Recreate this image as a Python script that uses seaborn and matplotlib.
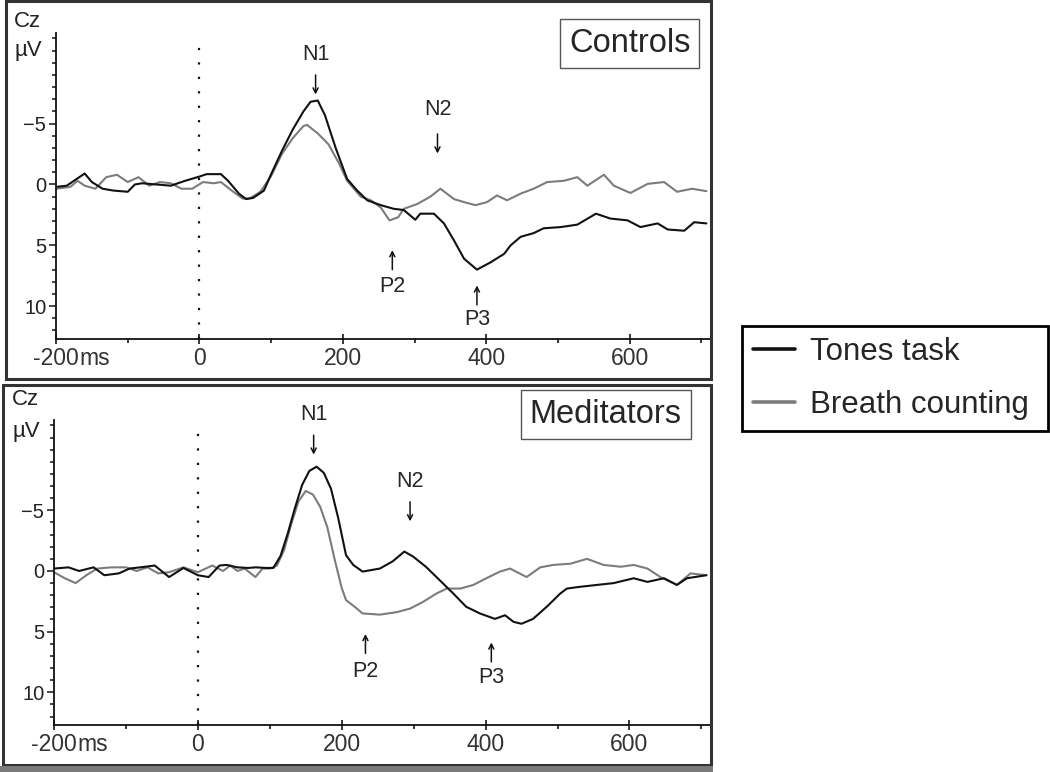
import numpy as np
import pandas as pd
import seaborn as sns
import matplotlib.pyplot as plt
from matplotlib.lines import Line2D
from matplotlib.patches import Rectangle
from matplotlib.ticker import MultipleLocator, FixedLocator

# ---- data (ms, µV; negative plotted upward) ----
ctrl_tones_t = [-200, -185, -165, -160, -150, -135, -120, -100, -90, -80, -60, -40, -20, 0, 10, 30, 40,
                55, 65, 75, 90, 100, 115, 130, 145, 155, 165, 175, 190, 206, 220, 234, 253, 271, 285,
                301, 308, 327, 341, 355, 369, 387, 406, 425, 434, 448, 466, 480, 504, 527, 553, 573,
                597, 615, 639, 653, 676, 690, 707]
ctrl_tones_v = [0.2, 0.1, -0.7, -0.9, -0.2, 0.35, 0.5, 0.6, 0, -0.1, 0, 0.1, -0.3, -0.65, -0.85, -0.85, -0.3,
                0.75, 1.2, 1.1, 0.5, -0.85, -2.75, -4.5, -6.0, -6.8, -6.9, -5.7, -3.0, -0.45, 0.5, 1.3, 1.7,
                2.0, 2.1, 2.9, 2.4, 2.4, 3.2, 4.6, 6.1, 7.0, 6.4, 5.7, 5.0, 4.3, 4.0, 3.6, 3.5, 3.3, 2.4,
                2.8, 2.95, 3.5, 3.2, 3.7, 3.8, 3.1, 3.2]

ctrl_breath_t = [-200, -180, -170, -160, -145, -130, -115, -100, -85, -70, -55, -40, -25, -10, 5, 20, 30,
                 45, 60, 70, 85, 100, 115, 130, 145, 150, 165, 180, 195, 206, 225, 239, 253, 265, 277,
                 285, 304, 322, 336, 355, 369, 385, 401, 415, 429, 448, 466, 485, 508, 527, 541, 564,
                 578, 601, 625, 648, 666, 687, 707]
ctrl_breath_v = [0.35, 0.2, -0.3, 0.1, 0.35, -0.6, -0.8, -0.2, -0.6, 0.1, -0.2, -0.1, 0.35, 0.35, -0.2,
                 -0.1, -0.2, 0.5, 1.15, 1.15, 0.6, -0.7, -2.5, -3.8, -4.8, -4.9, -4.2, -3.3, -1.7, -0.3,
                 1.0, 1.3, 1.9, 2.95, 2.7, 2.0, 1.6, 1.0, 0.35, 1.2, 1.45, 1.7, 1.45, 0.9, 1.3, 0.75,
                 0.35, -0.2, -0.3, -0.6, 0.1, -0.8, 0.1, 0.7, -0.05, -0.2, 0.6, 0.35, 0.55]

med_tones_t = [-200, -180, -165, -145, -130, -110, -95, -80, -60, -40, -20, 0, 15, 30, 40, 55, 70, 80,
               95, 105, 115, 125, 135, 145, 155, 165, 175, 185, 195, 206, 216, 229, 253, 271, 287, 299,
               317, 336, 355, 373, 392, 413, 427, 439, 450, 466, 485, 504, 513, 532, 555, 578, 606,
               625, 648, 666, 680, 707]
med_tones_v = [-0.2, -0.3, 0, -0.3, 0.35, 0.2, -0.2, -0.3, -0.45, 0.5, -0.25, 0.35, 0.5, -0.45, -0.5,
               -0.3, -0.25, -0.3, -0.25, -0.25, -1.25, -3.1, -5.2, -7.1, -8.25, -8.6, -8.1, -6.8, -4.4,
               -1.3, -0.5, 0.05, -0.2, -0.8, -1.6, -1.2, -0.35, 0.75, 1.85, 2.95, 3.5, 3.95, 3.65, 4.2,
               4.35, 3.95, 2.95, 1.85, 1.45, 1.3, 1.15, 1.0, 0.6, 0.9, 0.6, 1.15, 0.6, 0.35]

med_breath_t = [-200, -185, -170, -155, -140, -120, -100, -85, -70, -55, -40, -20, 0, 20, 35, 45, 55,
                65, 80, 90, 100, 110, 120, 130, 140, 150, 160, 170, 180, 190, 200, 206, 220, 229, 253,
                276, 295, 313, 332, 346, 365, 383, 401, 420, 434, 457, 476, 494, 518, 541, 564, 588,
                606, 625, 643, 666, 685, 707]
med_breath_v = [0.1, 0.6, 1.0, 0.35, -0.2, -0.3, -0.3, 0, -0.3, 0.2, 0.1, -0.3, 0.1, -0.45, 0, -0.45,
                0, -0.2, 0.5, -0.2, -0.2, -0.45, -1.75, -3.9, -5.75, -6.6, -6.3, -5.3, -3.6, -1.0, 1.4,
                2.4, 3.05, 3.5, 3.6, 3.4, 3.1, 2.55, 1.85, 1.45, 1.45, 1.15, 0.6, 0.05, -0.2, 0.5, -0.3,
                -0.5, -0.6, -1.0, -0.5, -0.35, -0.5, -0.2, 0.5, 1.15, 0.2, 0.35]

conditions = ["Tones task", "Breath counting"]
colors = {"Tones task": "#111111", "Breath counting": "#7c7c7c"}

# peak labels: (text, x ms, text y, arrow centre y, arrow points down?)
ctrl_peaks = [("N1", 162, -10.7, -8.2, True), ("N2", 332, -6.2, -3.35, True),
              ("P2", 269, 8.4, 6.2, False), ("P3", 387, 11.1, 9.1, False)]
med_peaks = [("N1", 161, -12.9, -10.4, True), ("N2", 295, -7.4, -4.9, True),
             ("P2", 233, 8.3, 6.0, False), ("P3", 408, 8.8, 6.7, False)]

sns.set_style("white")
plt.rcParams['font.family'] = ['Liberation Sans', 'DejaVu Sans']

W, H = 1050, 772
fig = plt.figure(figsize=(10.5, 7.72), dpi=100)


def to_df(tones_t, tones_v, breath_t, breath_v):
    a = pd.DataFrame({"time": tones_t, "amp": tones_v, "cond": conditions[0]})
    b = pd.DataFrame({"time": breath_t, "amp": breath_v, "cond": conditions[1]})
    return pd.concat([b, a], ignore_index=True)


def draw_panel(rect, df, peaks, title, title_xy, cz_y, uv_y):
    ax = fig.add_axes(rect)
    sns.lineplot(data=df, x="time", y="amp", hue="cond", palette=colors, estimator=None,
                 sort=False, lw=1.5, legend=False, ax=ax)
    ax.set_xlim(-200, 712)
    ax.set_ylim(12.7, -12.45)
    ax.set_xlabel("")
    ax.set_ylabel("")
    sns.despine(ax=ax)
    for s in ["left", "bottom"]:
        ax.spines[s].set_linewidth(1.3)
        ax.spines[s].set_color("#111111")
    ax.axvline(0, ymin=0, ymax=0.98, color="#111111", lw=1.6, ls=(0, (1, 5.5)))

    ax.xaxis.set_major_locator(FixedLocator([-200, 0, 200, 400, 600]))
    ax.xaxis.set_minor_locator(FixedLocator([-100, 100, 300, 500, 700]))
    ax.yaxis.set_major_locator(FixedLocator([-5, 0, 5, 10]))
    ax.yaxis.set_minor_locator(MultipleLocator(1))
    ax.tick_params(axis="x", which="major", direction="inout", length=7, width=1.3,
                   labelsize=16.5, labelcolor="#333333", pad=2.5, bottom=True)
    ax.tick_params(axis="x", which="minor", direction="out", length=3, width=1.3, bottom=True)
    ax.tick_params(axis="y", which="major", direction="out", length=5, width=1.2,
                   labelsize=14.5, labelcolor="#222222", pad=2, left=True)
    ax.tick_params(axis="y", which="minor", direction="out", length=3, width=1.2, left=True)
    ax.set_xticklabels(["-200", "0", "200", "400", "600"])
    ax.annotate("ms", xy=(-200, 0), xycoords=("data", "axes fraction"), xytext=(17, -6),
                textcoords="offset points", ha="left", va="top", fontsize=16.5, color="#333333",
                annotation_clip=False)

    ax.annotate("Cz", xy=(0, cz_y), xycoords=("axes fraction", "data"), xytext=(-11, 0),
                textcoords="offset points", ha="right", va="center", fontsize=16,
                color="#222222", annotation_clip=False)
    ax.annotate("µV", xy=(0, uv_y), xycoords=("axes fraction", "data"), xytext=(-10, 0),
                textcoords="offset points", ha="right", va="center", fontsize=16,
                color="#222222", annotation_clip=False)

    for name, x, ty, ay, down in peaks:
        ax.text(x, ty, name, ha="center", va="center", fontsize=15.5, clip_on=False)
        tail, tip = (ay - 0.8, ay + 0.8) if down else (ay + 0.8, ay - 0.8)
        ax.annotate("", xy=(x, tip), xytext=(x, tail), annotation_clip=False,
                    arrowprops=dict(arrowstyle="->,head_length=0.35,head_width=0.18",
                                    lw=1.1, color="#111111", shrinkA=0, shrinkB=0))

    ax.text(title_xy[0], title_xy[1], title, ha="center", va="center", fontsize=23.5,
            clip_on=False,
            bbox=dict(boxstyle="square,pad=0.27", fc="white", ec="#555555", lw=1))
    return ax


draw_panel([56 / W, 1 - 339 / H, 654 / W, 306 / H],
           to_df(ctrl_tones_t, ctrl_tones_v, ctrl_breath_t, ctrl_breath_v),
           ctrl_peaks, "Controls", (600, -11.6), -13.4, -11.0)
draw_panel([54 / W, 1 - 725 / H, 656 / W, 305 / H],
           to_df(med_tones_t, med_tones_v, med_breath_t, med_breath_v),
           med_peaks, "Meditators", (567, -12.9), -14.1, -11.5)

# outer panel frames
fig.add_artist(Rectangle((6 / W, 1 - 379 / H), 705 / W, 378 / H, transform=fig.transFigure,
                         fill=False, ec="#333333", lw=2.2))
fig.add_artist(Rectangle((3 / W, 1 - 765 / H), 708 / W, 380 / H, transform=fig.transFigure,
                         fill=False, ec="#333333", lw=2.2))
fig.add_artist(Rectangle((0, 0), 713 / W, 6 / H, transform=fig.transFigure,
                         fc="#7a7a7a", ec="none"))

handles = [Line2D([], [], color=colors[c], lw=2.6) for c in conditions]
leg = fig.legend(handles, conditions, loc="center left",
                 bbox_to_anchor=(742 / W, 1 - 378.5 / H, 306 / W, 0), mode="expand",
                 fontsize=22.5, frameon=True, fancybox=False, framealpha=1, edgecolor="black",
                 handlelength=1.35, handletextpad=0.5, labelspacing=0.75, borderpad=0.34,
                 borderaxespad=0)
leg.get_frame().set_linewidth(2)

fig.savefig("out.png", dpi=100)
